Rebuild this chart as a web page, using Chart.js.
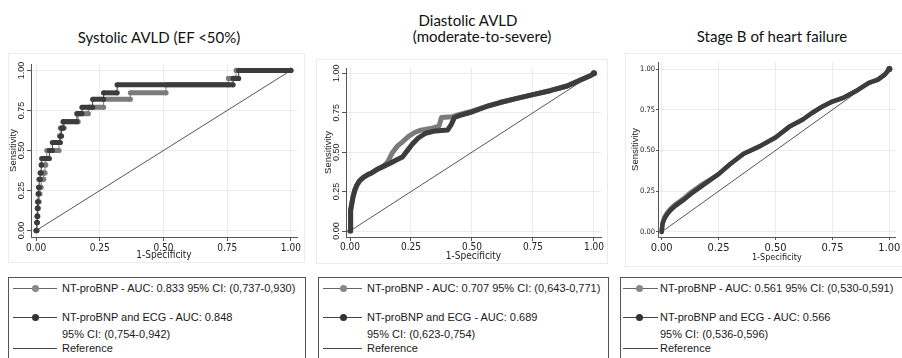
<!DOCTYPE html>
<html>
<head>
<meta charset="utf-8">
<script src="https://cdn.jsdelivr.net/npm/chart.js@4.4.1/dist/chart.umd.min.js"></script>
<style>
  body { margin: 0; background: #fff; width: 902px; height: 358px; overflow: hidden; position: relative; }
  .title { position: absolute; font-family: Lato, "Open Sans", sans-serif; font-size: 15px; line-height: 15px; color: #111; white-space: nowrap; transform: translateX(-50%); }
  .frame { position: absolute; border: 1px solid #ebebeb; box-sizing: border-box; }
  .plot { position: absolute; }
  .legend { position: absolute; top: 277px; height: 100px; border: 1px solid #555; box-sizing: border-box; }
  .txt { position: absolute; font-family: "Liberation Sans", Arial, sans-serif; font-size: 11px; line-height: 13px; color: #1a1a1a; white-space: nowrap; }
  .key { position: absolute; height: 1px; }
  .dot { position: absolute; width: 7px; height: 7px; border-radius: 50%; }
</style>
</head>
<body>

<div class="title" style="left:159px;top:30px">Systolic AVLD (EF &lt;50%)</div>
<div class="title" style="left:468px;top:12.7px">Diastolic AVLD</div>
<div class="title" style="left:482px;top:29.4px">(moderate-to-severe)</div>
<div class="title" style="left:772px;top:29.4px">Stage B of heart failure</div>

<div class="frame" style="left:8px;top:53px;width:297px;height:210px"></div>
<div class="frame" style="left:316px;top:59px;width:292px;height:205px"></div>
<div class="frame" style="left:625px;top:53px;width:290px;height:214px"></div>

<div class="plot" style="left:8px;top:54px;width:296px;height:208px"><canvas id="sys"></canvas></div>
<div class="plot" style="left:316px;top:60px;width:291px;height:203px"><canvas id="dia"></canvas></div>
<div class="plot" style="left:625px;top:53px;width:277px;height:213px"><canvas id="stb"></canvas></div>

<div id="legends"></div>

<script>
// ---- data ----
const AXIS_TICKS = [0, 0.25, 0.5, 0.75, 1];

// Systolic: sensitivity levels (22 cases) and the 1-specificity where each level ends
const SYS_TPR = [0.00, 0.05, 0.09, 0.14, 0.18, 0.23, 0.27, 0.32, 0.36, 0.41, 0.45, 0.50,
                 0.55, 0.59, 0.64, 0.68, 0.73, 0.77, 0.82, 0.86, 0.91, 0.95, 1.00];
const SYS_BNP_END = [0.003, 0.005, 0.007, 0.009, 0.012, 0.015, 0.020, 0.030, 0.035, 0.038, 0.042,
                     0.090, 0.092, 0.095, 0.110, 0.165, 0.205, 0.265, 0.370, 0.510, 0.755, 0.785];
const SYS_ECG_END = [0.003, 0.004, 0.005, 0.006, 0.008, 0.010, 0.012, 0.016, 0.020, 0.022, 0.052,
                     0.064, 0.095, 0.100, 0.106, 0.160, 0.180, 0.222, 0.265, 0.318, 0.773, 0.795];

// Diastolic
const DIA_ECG_FPR = [0, 0.001, 0.004, 0.008, 0.013, 0.02, 0.028, 0.04, 0.055, 0.07, 0.09, 0.11, 0.137,
                     0.165, 0.19, 0.215, 0.235, 0.255, 0.28, 0.31, 0.35, 0.40, 0.415, 0.428, 0.455, 0.50,
                     0.56, 0.615, 0.68, 0.75, 0.82, 0.89, 0.94, 0.985, 1];
const DIA_ECG_TPR = [0, 0.06, 0.13, 0.18, 0.22, 0.26, 0.29, 0.32, 0.34, 0.355, 0.37, 0.39, 0.41,
                     0.43, 0.45, 0.47, 0.51, 0.55, 0.59, 0.62, 0.635, 0.64, 0.675, 0.72, 0.735, 0.755,
                     0.79, 0.815, 0.84, 0.865, 0.89, 0.92, 0.955, 0.985, 1];
const DIA_BNP_FPR = [0, 0.001, 0.004, 0.008, 0.013, 0.02, 0.028, 0.04, 0.055, 0.07, 0.09, 0.11, 0.137,
                     0.155, 0.175, 0.195, 0.215, 0.24, 0.265, 0.29, 0.33, 0.365, 0.375, 0.42, 0.45, 0.50,
                     0.56, 0.615, 0.68, 0.75, 0.82, 0.89, 0.94, 0.985, 1];
const DIA_BNP_TPR = [0, 0.06, 0.13, 0.18, 0.22, 0.26, 0.29, 0.32, 0.34, 0.355, 0.37, 0.39, 0.41,
                     0.44, 0.50, 0.54, 0.565, 0.60, 0.625, 0.64, 0.65, 0.665, 0.72, 0.725, 0.74, 0.76,
                     0.79, 0.815, 0.84, 0.865, 0.89, 0.92, 0.955, 0.985, 1];

// Stage B
const STB_ECG_FPR = [0, 0.004, 0.012, 0.025, 0.04, 0.06, 0.08, 0.10, 0.13, 0.17, 0.21, 0.25, 0.30,
                     0.36, 0.43, 0.50, 0.56, 0.62, 0.66, 0.70, 0.75, 0.80, 0.86, 0.91, 0.95, 0.98, 1];
const STB_ECG_TPR = [0, 0.05, 0.08, 0.11, 0.135, 0.16, 0.18, 0.20, 0.235, 0.275, 0.315, 0.355, 0.415,
                     0.48, 0.525, 0.58, 0.645, 0.69, 0.73, 0.765, 0.80, 0.825, 0.87, 0.915, 0.935, 0.965, 1];
const STB_BNP_FPR = [0, 0.004, 0.012, 0.025, 0.04, 0.06, 0.08, 0.10, 0.13, 0.17, 0.21, 0.25, 0.30,
                     0.36, 0.43, 0.50, 0.56, 0.62, 0.66, 0.70, 0.75, 0.80, 0.86, 0.91, 0.95, 0.98, 1];
const STB_BNP_TPR = [0, 0.055, 0.09, 0.12, 0.145, 0.17, 0.19, 0.21, 0.245, 0.285, 0.32, 0.355, 0.415,
                     0.48, 0.525, 0.58, 0.645, 0.69, 0.73, 0.765, 0.80, 0.825, 0.87, 0.915, 0.935, 0.965, 1];

const REF_X = [0, 1];
const REF_Y = [0, 1];

const LEGEND_TEXT = [
  ['NT-proBNP - AUC: 0.833 95% CI: (0,737-0,930)', 'NT-proBNP and ECG - AUC: 0.848', '95% CI: (0,754-0,942)', 'Reference'],
  ['NT-proBNP - AUC: 0.707 95% CI: (0,643-0,771)', 'NT-proBNP and ECG - AUC: 0.689', '95% CI: (0,623-0,754)', 'Reference'],
  ['NT-proBNP - AUC: 0.561 95% CI: (0,530-0,591)', 'NT-proBNP and ECG - AUC: 0.566', '95% CI: (0,536-0,596)', 'Reference'],
];

// ---- styles ----
const GRAY = '#7b7b7b';
const DARK = '#3c3c3c';
const AXIS = '#555';
const GRID = '#ebebeb';
const ARIAL = '"Liberation Sans", Arial, sans-serif';
const NARROW = '"Liberation Sans Narrow", "Arial Narrow", "DejaVu Sans Condensed", sans-serif';

Chart.defaults.animation = false;
Chart.defaults.devicePixelRatio = 1;

let pts = (xs, ys) => xs.map((x, i) => ({ x: x, y: ys[i] }));

// staircase through the ROC steps
let stairs = function(levels, ends) {
  let list = [{ x: 0, y: levels[0] }];
  for (let k = 0; k < ends.length; k++) {
    list.push({ x: ends[k], y: levels[k] });
    list.push({ x: ends[k], y: levels[k + 1] });
  }
  list.push({ x: 1, y: levels[levels.length - 1] });
  return list;
};

let labelWidth = function(font) {
  let c = document.createElement('canvas').getContext('2d');
  c.font = font;
  return c.measureText('0.00').width;
};

let stepSet = (data, color) => ({
  data: data, showLine: true, borderColor: color, backgroundColor: color,
  borderWidth: 1, pointRadius: 2.6, pointBorderWidth: 0, pointBackgroundColor: color,
  segment: { borderWidth: ctx => ctx.p0.parsed.y === ctx.p1.parsed.y ? 5 : 1 },
});

let curveSet = (data, color, width) => ({
  data: data, showLine: true, borderColor: color, backgroundColor: color,
  borderWidth: width, borderJoinStyle: 'round', borderCapStyle: 'round',
  pointBorderWidth: 0, pointBackgroundColor: color,
  pointRadius: ctx => (ctx.dataIndex === data.length - 1 ? 3 : 0),
});

let refSet = () => ({
  data: pts(REF_X, REF_Y), showLine: true, borderColor: AXIS, borderWidth: 1, pointRadius: 0,
});

let draw = function(id, datasets, c) {
  let yLabelW = labelWidth(c.yFont + 'px ' + (c.yRotated ? ARIAL : NARROW));
  let yTicks = c.yRotated
    ? { font: { family: ARIAL, size: c.yFont }, color: '#222', minRotation: 90, maxRotation: 90,
        crossAlign: 'center', padding: c.yw - c.ytl - c.yCenter - yLabelW / 2 }
    : { font: { family: NARROW, size: c.yFont }, color: '#222', padding: c.ypad };
  yTicks.callback = v => v.toFixed(2);

  new Chart(document.getElementById(id), {
    type: 'scatter',
    data: { datasets: datasets },
    options: {
      responsive: true,
      maintainAspectRatio: false,
      layout: { padding: { left: 0, right: c.pr, top: c.pt, bottom: 0 } },
      plugins: { legend: { display: false }, tooltip: { enabled: false } },
      scales: {
        x: {
          type: 'linear', min: c.xmin, max: c.xmax,
          afterBuildTicks: s => { s.ticks = AXIS_TICKS.map(v => ({ value: v })); },
          afterFit: s => { s.height = c.xh; },
          grid: { color: GRID, tickColor: AXIS, tickLength: c.xtl },
          border: { color: AXIS, width: 1 },
          ticks: { font: { family: NARROW, size: c.xFont }, color: '#222', padding: c.xpad, maxRotation: 0,
                   callback: v => v.toFixed(2) },
          title: { display: true, text: '1-Specificity', color: '#222',
                   font: { family: NARROW, size: c.xTitleFont }, padding: { top: 0, bottom: c.xTitlePad } },
        },
        y: {
          type: 'linear', min: c.ymin, max: c.ymax,
          afterBuildTicks: s => { s.ticks = AXIS_TICKS.map(v => ({ value: v })); },
          afterFit: s => { s.width = c.yw; },
          grid: { color: GRID, tickColor: AXIS, tickLength: c.ytl },
          border: { color: AXIS, width: 1 },
          ticks: yTicks,
          title: { display: true, text: 'Sensitivity', color: '#222',
                   font: { family: ARIAL, size: 9.5 }, padding: { top: c.yTitlePad, bottom: 0 } },
        },
      },
    },
  });
};

draw('sys', [
  stepSet(stairs(SYS_TPR, SYS_ECG_END), DARK),
  stepSet(stairs(SYS_TPR, SYS_BNP_END), GRAY),
  refSet(),
], { xmin: -0.02, xmax: 1.024, ymin: -0.04, ymax: 1.04, pr: 7, pt: 10, xh: 25, yw: 23,
     xtl: 4, ytl: 4, xFont: 10, xpad: 1, xTitleFont: 10, xTitlePad: 1,
     yRotated: true, yFont: 9, yCenter: 13.7, yTitlePad: 0 });

draw('dia', [
  curveSet(pts(DIA_ECG_FPR, DIA_ECG_TPR), DARK, 5),
  curveSet(pts(DIA_BNP_FPR, DIA_BNP_TPR), GRAY, 5),
  refSet(),
], { xmin: -0.0164, xmax: 1.029, ymin: -0.038, ymax: 1.034, pr: 6, pt: 8, xh: 26, yw: 30,
     xtl: 4, ytl: 4, xFont: 10, xpad: 0, xTitleFont: 10, xTitlePad: 1,
     yRotated: true, yFont: 9, yCenter: 20.7, yTitlePad: 6.3 });

draw('stb', [
  curveSet(pts(STB_ECG_FPR, STB_ECG_TPR), DARK, 4.5),
  curveSet(pts(STB_BNP_FPR, STB_BNP_TPR), GRAY, 4.5),
  refSet(),
], { xmin: -0.016, xmax: 1.0277, ymin: -0.031, ymax: 1.043, pr: 5, pt: 9, xh: 29, yw: 33,
     xtl: 3, ytl: 2, xFont: 11, xpad: 1.5, xTitleFont: 9, xTitlePad: 2.6,
     yRotated: false, yFont: 7.5, ypad: 1, yTitlePad: 4.3 });

// ---- legends ----
const LEGEND_BOX = [
  { left: 8, width: 298, k0: 5, k1: 49, dot: 27, text: 54 },
  { left: 318, width: 291, k0: 5, k1: 44, dot: 25, text: 49 },
  { left: 620, width: 290, k0: 3, k1: 38, dot: 19, text: 40 },
];
const ROW_TOP = [282.4, 311.4, 328, 342.4];
const KEY_Y = [288.5, 317.5, null, 348.5];

let holder = document.getElementById('legends');
LEGEND_BOX.forEach((b, i) => {
  let box = document.createElement('div');
  box.className = 'legend';
  box.style.left = b.left + 'px';
  box.style.width = b.width + 'px';
  holder.appendChild(box);

  LEGEND_TEXT[i].forEach((t, r) => {
    let el = document.createElement('div');
    el.className = 'txt';
    el.textContent = t;
    el.style.left = (b.left + b.text) + 'px';
    el.style.top = ROW_TOP[r] + 'px';
    holder.appendChild(el);

    if (KEY_Y[r] === null) return;
    let line = document.createElement('div');
    line.className = 'key';
    line.style.left = (b.left + b.k0) + 'px';
    line.style.width = (b.k1 - b.k0) + 'px';
    line.style.top = (KEY_Y[r] - 0.5) + 'px';
    line.style.background = r === 0 ? '#666' : '#444';
    holder.appendChild(line);

    if (r === 3) return;
    let dot = document.createElement('div');
    dot.className = 'dot';
    dot.style.left = (b.left + b.dot - 3.5) + 'px';
    dot.style.top = (KEY_Y[r] - 3.5) + 'px';
    dot.style.background = r === 0 ? '#888' : '#333';
    holder.appendChild(dot);
  });
});
</script>
</body>
</html>
